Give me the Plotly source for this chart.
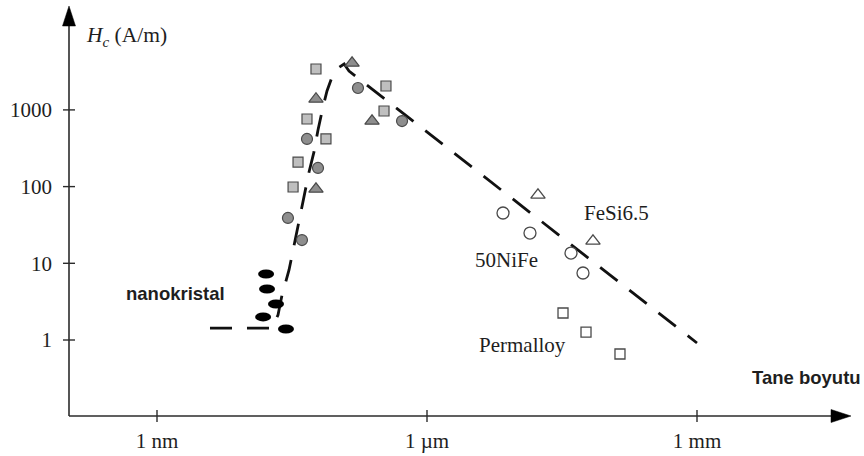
import numpy as np
import plotly.graph_objects as go

# Grain size (nm) and coercivity Hc (A/m) for each material group
nano_size = [16.3, 16.7, 21.0, 15.1, 27.1]
nano_hc = [7.25, 4.62, 2.95, 2.0, 1.39]

gray_circle_size = [171, 528, 46.4, 61.5, 28.5, 40.8]
gray_circle_hc = [1930, 716, 418, 175, 39.0, 20.1]

gray_square_size = [58.4, 350, 333, 46.4, 75.4, 36.9, 32.5]
gray_square_hc = [3414, 2050, 968, 761, 418, 209, 98.8]

gray_triangle_size = [147, 58.4, 245, 58.4]
gray_triangle_hc = [4087, 1387, 716, 93.0]

nife_size = [6990, 13940, 39810, 54100]
nife_hc = [45.3, 24.8, 13.6, 7.47]

fesi_size = [17100, 69850]
fesi_hc = [77.7, 19.5]

permalloy_size = [32450, 58450, 139400]
permalloy_hc = [2.25, 1.27, 0.657]

# Guide curve: plateau, steep rise, peak, then ~1/D decay
trend_size = [3.88, 18.9, 22.1, 24.5, 29.3, 31.6, 35.0, 38.8, 44.1, 48.9,
              55.5, 61.5, 69.9, 77.4, 88.0, 103, 120, 136, 1e6]
trend_hc = [1.43, 1.43, 2.12, 3.86, 8.18, 12.8, 23.4, 42.6, 85.1, 155,
            283, 547, 1091, 1764, 2685, 3517, 3966, 3214, 0.914]

x_tickvals = [1, 1e3, 1e6]
x_ticktext = ["1 nm", "1 µm", "1 mm"]
y_tickvals = [1, 10, 100, 1000]
y_ticktext = ["1", "10", "100", "1000"]

W, H = 864, 456
ML, MR, MT, MB = 69, 13, 6, 40
PW, PH = W - ML - MR, H - MT - MB
X_DEC, Y_DEC = 90.0, 76.7          # pixels per decade
x_lo = np.log10(x_tickvals[0]) - (157 - ML) / X_DEC
y_lo = np.log10(y_tickvals[0]) - ((H - MB) - 340) / Y_DEC

SERIF = "Liberation Serif, Times New Roman, serif"
SANS = "Liberation Sans, Arial, sans-serif"
AX = "#2b2b2b"
EDGE = "#4a4a4a"
TXT = "#1e1e1e"

fig = go.Figure()

fig.add_trace(go.Scatter(
    x=trend_size, y=trend_hc, mode="lines",
    line=dict(color="#111111", width=2.8, dash="22px,15px"),
    hoverinfo="skip", showlegend=False))

def markers(x, y, symbol, size, fill, edge=EDGE, lw=1.2):
    fig.add_trace(go.Scatter(
        x=x, y=y, mode="markers", showlegend=False,
        marker=dict(symbol=symbol, size=size, color=fill,
                    line=dict(color=edge, width=lw))))

markers(gray_square_size, gray_square_hc, "square", 10, "#bfbfbf")
markers(gray_circle_size, gray_circle_hc, "circle", 11, "#8e8e8e")
markers(gray_triangle_size, gray_triangle_hc, "triangle-up", 12.5, "#8e8e8e")
markers(nife_size, nife_hc, "circle", 12, "white", lw=1.3)
markers(fesi_size, fesi_hc, "triangle-up", 12.5, "white", lw=1.3)
markers(permalloy_size, permalloy_hc, "square", 10, "white", lw=1.3)

shapes = []
# nanocrystalline alloys as flat black ellipses (16 x 9 px)
ex = 10 ** (8.0 / X_DEC)
ey = 10 ** (4.5 / Y_DEC)
for sx, hy in zip(nano_size, nano_hc):
    shapes.append(dict(type="circle", xref="x", yref="y",
                       x0=sx / ex, x1=sx * ex, y0=hy / ey, y1=hy * ey,
                       fillcolor="black", line=dict(width=0)))

# axis lines
shapes.append(dict(type="line", xref="paper", yref="paper", x0=0, x1=1 - 10 / PW,
                   y0=0, y1=0, line=dict(color=AX, width=1.6)))
shapes.append(dict(type="line", xref="paper", yref="paper", x0=0, x1=0,
                   y0=0, y1=1 - 10 / PH, line=dict(color=AX, width=1.6)))
# arrowheads
ah_len, ah_half = 20, 6.5
shapes.append(dict(type="path", xref="paper", yref="paper",
                   path=f"M {1 - ah_len / PW},{ah_half / PH} L 1,0 "
                        f"L {1 - ah_len / PW},{-ah_half / PH} Z",
                   fillcolor="black", line=dict(color="black", width=0.5)))
shapes.append(dict(type="path", xref="paper", yref="paper",
                   path=f"M {-ah_half / PW},{1 - ah_len / PH} L 0,1 "
                        f"L {ah_half / PW},{1 - ah_len / PH} Z",
                   fillcolor="black", line=dict(color="black", width=0.5)))
# crossing tick marks
for v in x_tickvals:
    shapes.append(dict(type="line", xref="x", yref="paper", x0=v, x1=v,
                       ysizemode="pixel", yanchor=0, y0=-6, y1=6,
                       line=dict(color=AX, width=1.4)))
for v in y_tickvals:
    shapes.append(dict(type="line", yref="y", xref="paper", y0=v, y1=v,
                       xsizemode="pixel", xanchor=0, x0=-6, x1=6,
                       line=dict(color=AX, width=1.4)))

def px(xp):
    return (xp - ML) / PW

def py(yp):
    return (H - MB - yp) / PH

annotations = [
    dict(text="<i>H</i><sub><i>c</i></sub> (A/m)", x=px(84), y=py(37),
         xanchor="left", yanchor="middle",
         font=dict(family=SERIF, size=21.5, color=TXT)),
    dict(text="FeSi6.5", x=px(616.5), y=py(213),
         font=dict(family=SERIF, size=21, color=TXT)),
    dict(text="50NiFe", x=px(506), y=py(259.5),
         font=dict(family=SERIF, size=21, color=TXT)),
    dict(text="Permalloy", x=px(522), y=py(345),
         font=dict(family=SERIF, size=21, color=TXT)),
    dict(text="<b>nanokristal</b>", x=px(175), y=py(293),
         font=dict(family=SANS, size=18.5, color=TXT)),
    dict(text="<b>Tane boyutu</b>", x=px(806), y=py(377),
         font=dict(family=SANS, size=18.5, color=TXT)),
]
for a in annotations:
    a.update(xref="paper", yref="paper", showarrow=False)
    a.setdefault("xanchor", "center")
    a.setdefault("yanchor", "middle")

fig.update_layout(
    width=W, height=H,
    margin=dict(l=ML, r=MR, t=MT, b=MB, pad=0, autoexpand=False),
    paper_bgcolor="white", plot_bgcolor="white",
    shapes=shapes, annotations=annotations,
    xaxis=dict(type="log", range=[x_lo, x_lo + PW / X_DEC],
               tickvals=x_tickvals, ticktext=x_ticktext, ticks="",
               ticklabelstandoff=10, automargin=False,
               tickfont=dict(family=SERIF, size=21, color=TXT),
               showgrid=False, zeroline=False, showline=False),
    yaxis=dict(type="log", range=[y_lo, y_lo + PH / Y_DEC],
               tickvals=y_tickvals, ticktext=y_ticktext, ticks="",
               ticklabelstandoff=16, automargin=False,
               tickfont=dict(family=SERIF, size=21, color=TXT),
               showgrid=False, zeroline=False, showline=False),
)

fig.write_html("out.html")
